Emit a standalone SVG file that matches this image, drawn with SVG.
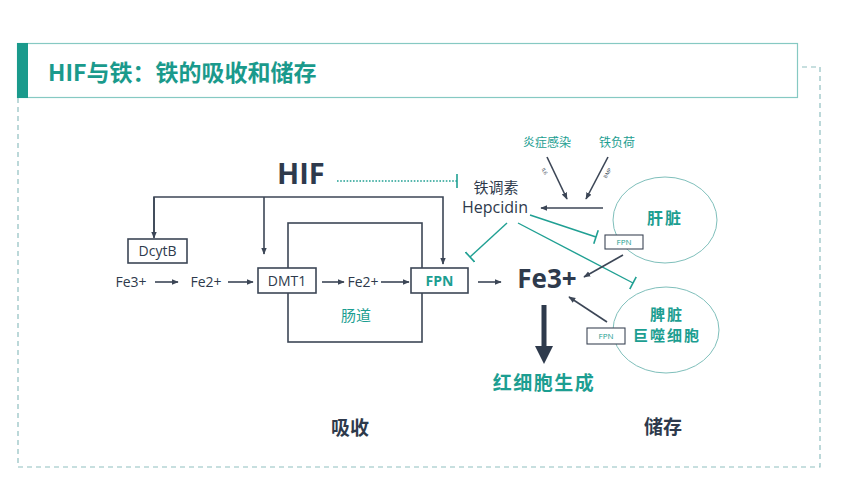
<svg xmlns="http://www.w3.org/2000/svg" width="842" height="487" viewBox="0 0 842 487">
<defs>
<style>
text{font-family:"Open Sans","Noto Sans CJK SC",sans-serif;}
.cn{font-family:"Noto Sans CJK SC",sans-serif;}
.dk{fill:#2e3a4c;}
.tl{fill:#1c9e91;}
.ln{stroke:#3c4656;stroke-width:1.6;fill:none;}
.tln{stroke:#20a093;stroke-width:1.4;fill:none;}
.box{fill:#fff;stroke:#3c4656;stroke-width:1.6;}
.sbox{fill:#fff;stroke:#3c4656;stroke-width:1.1;}
.ell{fill:none;stroke:#7fbfbb;stroke-width:1;}
.frame{fill:none;stroke:#8fbfc0;stroke-width:1.2;stroke-dasharray:5 4;}
</style>
<marker id="ah" viewBox="0 0 10 10" refX="9" refY="5" markerWidth="7" markerHeight="7" markerUnits="userSpaceOnUse" orient="auto">
<path d="M0,1 L10,5 L0,9 Z" fill="#3c4656"/>
</marker>
<marker id="tb" viewBox="0 0 4 14" refX="2" refY="7" markerWidth="4" markerHeight="14" markerUnits="userSpaceOnUse" orient="auto">
<path d="M2,0 L2,14" stroke="#20a093" stroke-width="1.6"/>
</marker>
</defs>
<rect width="842" height="487" fill="#fff"/>

<g id="header">
<rect x="17.5" y="43.5" width="780" height="54" fill="#fff" stroke="#86c9c3" stroke-width="1.2"/>
<rect x="17" y="43" width="11" height="55" fill="#1a9a8c"/>
<text x="48" y="81" class="cn" font-size="23" font-weight="bold" fill="#1a9a8c">HIF与铁：铁的吸收和储存</text>
</g>
<path class="frame" d="M18,98 L18,467 L820,467 L820,67 L798,67"/>

<g id="connectors">
<path class="ln" d="M154,237 L154,197 L443,197 L443,264" marker-end="url(#ah)"/>
<path class="ln" d="M154,197 L154,238" marker-end="url(#ah)"/>
<path class="ln" d="M264,197 L264,254" marker-end="url(#ah)"/>
<rect x="288" y="223" width="134" height="119" class="ln"/>
<path class="ln" d="M155,282 L178,282" marker-end="url(#ah)"/>
<path class="ln" d="M228,282 L253,282" marker-end="url(#ah)"/>
<path class="ln" d="M322,282 L344,282" marker-end="url(#ah)"/>
<path class="ln" d="M381,282 L409,282" marker-end="url(#ah)"/>
<path class="ln" d="M478,282 L501,282" marker-end="url(#ah)"/>
<path d="M337,181 L457,181" stroke="#20a093" stroke-width="1.4" stroke-dasharray="1.6 1.6" fill="none" marker-end="url(#tb)"/>
<path class="tln" d="M507,223 L470,257" marker-end="url(#tb)"/>
<path class="tln" d="M530,215 L596,237" marker-end="url(#tb)"/>
<path class="tln" d="M518,223 L633,283" marker-end="url(#tb)"/>
<path class="ln" d="M603,208 L541,208" marker-end="url(#ah)"/>
<path class="ln" d="M547,157 L567,199" marker-end="url(#ah)"/>
<path class="ln" d="M608,157 L586,199" marker-end="url(#ah)"/>
<path class="ln" d="M623,255 L584,277" marker-end="url(#ah)"/>
<path class="ln" d="M607,322 L569,297" marker-end="url(#ah)"/>
<path d="M541.5,305 L541.5,346 L535,346 L544,364 L553,346 L546.5,346 L546.5,305 Z" fill="#2e3a4c"/>
</g>

<g id="hif"><text x="277" y="184" font-size="29" font-weight="bold" class="dk">HIF</text></g>
<g id="hepcidin">
<text x="496" y="193" text-anchor="middle" font-size="15" class="dk cn">铁调素</text>
<text x="495" y="213" text-anchor="middle" font-size="16" class="dk">Hepcidin</text>
</g>
<g id="dcytb"><rect x="128" y="239" width="59" height="24" class="box"/><text x="157.5" y="256" text-anchor="middle" font-size="14" class="dk">DcytB</text></g>
<g id="fe3a"><text x="131" y="287" text-anchor="middle" font-size="14" class="dk">Fe3+</text></g>
<g id="fe2a"><text x="206" y="287" text-anchor="middle" font-size="14" class="dk">Fe2+</text></g>
<g id="dmt1"><rect x="258" y="268" width="58" height="25" class="box"/><text x="287" y="286" text-anchor="middle" font-size="14" class="dk">DMT1</text></g>
<g id="fe2b"><text x="363" y="287" text-anchor="middle" font-size="14" class="dk">Fe2+</text></g>
<g id="fpn"><rect x="411" y="268" width="57" height="25" class="box"/><text x="439.5" y="286" text-anchor="middle" font-size="14" font-weight="bold" class="tl">FPN</text></g>
<g id="gut"><text x="356" y="321" text-anchor="middle" font-size="15" class="tl cn">肠道</text></g>
<g id="fe3b"><text x="547" y="288" text-anchor="middle" font-size="26" font-weight="bold" class="dk">Fe3+</text></g>
<g id="rbc"><text x="544" y="390" text-anchor="middle" font-size="19" font-weight="bold" class="tl cn" letter-spacing="1.5">红细胞生成</text></g>
<g id="inflam"><text x="547" y="147" text-anchor="middle" font-size="12" class="tl cn">炎症感染</text>
<text x="543" y="172" text-anchor="middle" font-size="5" class="dk" transform="rotate(63 543 172)">IL6</text></g>
<g id="ironload"><text x="617" y="147" text-anchor="middle" font-size="12" class="tl cn">铁负荷</text>
<text x="609" y="174" text-anchor="middle" font-size="5" class="dk" transform="rotate(-60 609 174)">BMP</text></g>
<g id="liver">
<ellipse cx="665" cy="220" rx="52" ry="43" class="ell"/>
<text x="665" y="224" text-anchor="middle" font-size="16" font-weight="bold" class="tl cn" letter-spacing="2">肝脏</text>
<rect x="605" y="235" width="38" height="14" class="sbox"/>
<text x="624" y="245" text-anchor="middle" font-size="8" class="tl">FPN</text>
</g>
<g id="spleen">
<ellipse cx="666" cy="330" rx="53" ry="43" class="ell"/>
<text x="667" y="320" text-anchor="middle" font-size="15" font-weight="bold" class="tl cn" letter-spacing="2">脾脏</text>
<text x="667" y="341" text-anchor="middle" font-size="15" font-weight="bold" class="tl cn" letter-spacing="2">巨噬细胞</text>
<rect x="587" y="328" width="38" height="16" class="sbox"/>
<text x="606" y="339" text-anchor="middle" font-size="8" class="tl">FPN</text>
</g>
<g id="absorb"><text x="350" y="435" text-anchor="middle" font-size="19" font-weight="bold" class="dk cn">吸收</text></g>
<g id="store"><text x="663" y="434" text-anchor="middle" font-size="19" font-weight="bold" class="dk cn">储存</text></g>
</svg>
